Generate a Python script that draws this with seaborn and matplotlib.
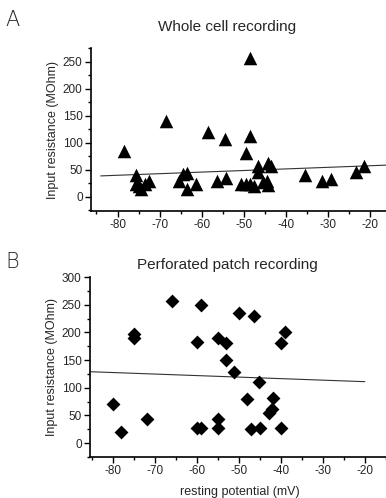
import numpy as np
import pandas as pd
import matplotlib
matplotlib.use('Agg')
import matplotlib.pyplot as plt
from matplotlib.ticker import MultipleLocator
import seaborn as sns

# Whole cell recording (triangles)
whole_vm = [-78.4, -68.5, -58.6, -54.4, -48.6, -48.6, -49.5, -46.6, -46.7, -44.3,
            -43.5, -75.6, -75.6, -74.8, -74.3, -73.5, -72.4, -65.4, -64.4, -63.4,
            -63.4, -61.3, -56.4, -54.3, -50.7, -49.5, -48.6, -47.5, -45.5, -44.5,
            -44.3, -35.5, -31.5, -29.3, -23.4, -21.4]
whole_rin = [86, 141, 120, 108, 258, 112, 82, 57, 47, 62,
             58, 40, 24, 20, 15, 24, 29, 30, 43, 45,
             15, 24, 30, 36, 24, 24, 24, 21, 27, 30,
             22, 41, 30, 33, 46, 57]
# linear fit as drawn in the figure
whole_fit_vm = [-84, -16]
whole_fit_rin = [39, 59]

# Perforated patch recording (diamonds)
perf_vm = [-80.0, -78.0, -72.0, -75.0, -75.0, -65.9, -59.1, -60.1, -60.1, -59.1,
           -55.0, -53.1, -53.1, -51.1, -49.9, -55.0, -55.0, -48.0, -46.4, -47.2,
           -45.2, -45.1, -42.9, -42.2, -41.8, -40.0, -39.0, -40.0]
perf_rin = [70, 20, 43, 197, 189, 257, 250, 183, 27, 28,
            189, 180, 150, 129, 235, 43, 28, 80, 230, 25,
            110, 28, 54, 62, 81, 180, 200, 28]
perf_fit_vm = [-85.5, -20]
perf_fit_rin = [129, 111]

whole = pd.DataFrame({'vm': whole_vm, 'rin': whole_rin})
perf = pd.DataFrame({'vm': perf_vm, 'rin': perf_rin})

sns.set_style('ticks')
plt.rcParams['font.family'] = ['Liberation Sans', 'DejaVu Sans']
plt.rcParams['axes.unicode_minus'] = False

fig = plt.figure(figsize=(3.86, 4.98), dpi=100)
ax1 = fig.add_axes([91 / 386, 1 - 211 / 498, 300 / 386, 162.5 / 498])
ax2 = fig.add_axes([90 / 386, 1 - 457 / 498, 300 / 386, 180 / 498])

line_kws = dict(color='#333333', lw=0.8)

# panel A
sns.lineplot(x=whole_fit_vm, y=whole_fit_rin, ax=ax1, **line_kws)
sns.scatterplot(data=whole, x='vm', y='rin', ax=ax1, marker='^', s=95,
                color='black', edgecolor='black', linewidth=0, zorder=3)
ax1.set_xlim(-86.3, -15)
ax1.set_ylim(-26, 275)

# panel B
sns.lineplot(x=perf_fit_vm, y=perf_fit_rin, ax=ax2, **line_kws)
sns.scatterplot(data=perf, x='vm', y='rin', ax=ax2, marker='D', s=50,
                color='black', edgecolor='black', linewidth=0, zorder=3)
ax2.set_xlim(-85.5, -14)
ax2.set_ylim(-25, 300)

for ax in (ax1, ax2):
    sns.despine(ax=ax)
    for s in ('left', 'bottom'):
        ax.spines[s].set_linewidth(1.2)
        ax.spines[s].set_color('black')
    ax.xaxis.set_major_locator(MultipleLocator(10))
    ax.xaxis.set_minor_locator(MultipleLocator(5))
    ax.yaxis.set_major_locator(MultipleLocator(50))
    ax.yaxis.set_minor_locator(MultipleLocator(25))
    ax.tick_params(which='major', length=4, width=1, labelsize=8.5, pad=2,
                   color='black')
    ax.tick_params(which='minor', length=2, width=1, color='black')
    ax.set_ylabel('Input resistance (MOhm)', fontsize=9, labelpad=3)
    ax.set_xlabel('')
    ax.set_facecolor('white')

ax1.set_xticks(np.arange(-80, -19, 10))
ax2.set_xticks(np.arange(-80, -19, 10))
ax2.set_xlabel('resting potential (mV)', fontsize=9, labelpad=6)

fig.text(227 / 386, 1 - 27 / 498, 'Whole cell recording', fontsize=11,
         ha='center', va='center')
fig.text(227 / 386, 1 - 265 / 498, 'Perforated patch recording', fontsize=11,
         ha='center', va='center')
fig.text(12 / 386, 1 - 20 / 498, 'A', fontsize=15, ha='center', va='center',
         fontfamily='DejaVu Sans', fontweight='light')
fig.text(12 / 386, 1 - 262 / 498, 'B', fontsize=15, ha='center', va='center',
         fontfamily='DejaVu Sans', fontweight='light')

fig.savefig('out.png', dpi=100, facecolor='white')
